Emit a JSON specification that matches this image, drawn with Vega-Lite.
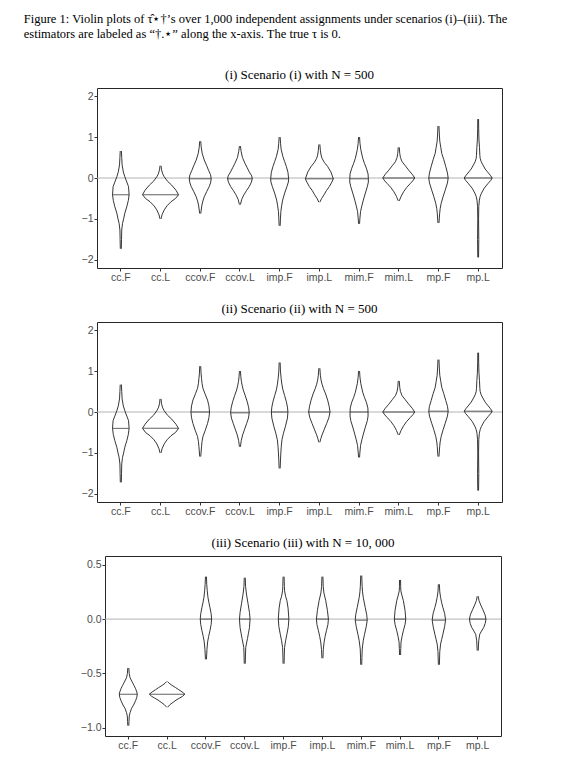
{
"$schema": "https://vega.github.io/schema/vega-lite/v6.json",
"padding": {"left": 23, "top": 13, "right": 5, "bottom": 2},
"background": "white",
"title": {"text": ["Figure 1: Violin plots of τ̂⋆†’s over 1,000 independent assignments under scenarios (i)–(iii).  The", "estimators are labeled as “†.⋆” along the x-axis. The true τ is 0."], "anchor": "start", "fontSize": 12.5, "lineHeight": 15, "dx": -49, "offset": 28, "font": "Liberation Serif", "fontWeight": "normal"},
"spacing": 19,
"datasets": {
"sp": [{"k": 0}],
"p1": [
{"e":"cc.F","v":0.66,"d":0.06},{"e":"cc.F","v":0.5,"d":0.09},{"e":"cc.F","v":0.32,"d":0.13},{"e":"cc.F","v":0.15,"d":0.25},{"e":"cc.F","v":0.03,"d":0.4},{"e":"cc.F","v":-0.1,"d":0.6},{"e":"cc.F","v":-0.21,"d":0.77},{"e":"cc.F","v":-0.41,"d":0.83},{"e":"cc.F","v":-0.55,"d":0.75},{"e":"cc.F","v":-0.7,"d":0.6},{"e":"cc.F","v":-0.86,"d":0.4},{"e":"cc.F","v":-1.0,"d":0.28},{"e":"cc.F","v":-1.11,"d":0.17},{"e":"cc.F","v":-1.27,"d":0.09},{"e":"cc.F","v":-1.5,"d":0.07},{"e":"cc.F","v":-1.73,"d":0.05},
{"e":"cc.L","v":0.3,"d":0.05},{"e":"cc.L","v":0.2,"d":0.1},{"e":"cc.L","v":0.1,"d":0.22},{"e":"cc.L","v":0.03,"d":0.37},{"e":"cc.L","v":-0.08,"d":0.7},{"e":"cc.L","v":-0.17,"d":1.1},{"e":"cc.L","v":-0.3,"d":1.55},{"e":"cc.L","v":-0.41,"d":1.8},{"e":"cc.L","v":-0.5,"d":1.5},{"e":"cc.L","v":-0.58,"d":1.05},{"e":"cc.L","v":-0.68,"d":0.65},{"e":"cc.L","v":-0.78,"d":0.37},{"e":"cc.L","v":-0.9,"d":0.15},{"e":"cc.L","v":-1.0,"d":0.05},
{"e":"ccov.F","v":0.9,"d":0.05},{"e":"ccov.F","v":0.75,"d":0.1},{"e":"ccov.F","v":0.6,"d":0.2},{"e":"ccov.F","v":0.44,"d":0.4},{"e":"ccov.F","v":0.3,"d":0.65},{"e":"ccov.F","v":0.19,"d":0.83},{"e":"ccov.F","v":0.08,"d":1.03},{"e":"ccov.F","v":-0.02,"d":1.1},{"e":"ccov.F","v":-0.12,"d":1.03},{"e":"ccov.F","v":-0.21,"d":0.9},{"e":"ccov.F","v":-0.33,"d":0.65},{"e":"ccov.F","v":-0.46,"d":0.4},{"e":"ccov.F","v":-0.56,"d":0.27},{"e":"ccov.F","v":-0.66,"d":0.17},{"e":"ccov.F","v":-0.87,"d":0.05},
{"e":"ccov.L","v":0.78,"d":0.05},{"e":"ccov.L","v":0.65,"d":0.12},{"e":"ccov.L","v":0.5,"d":0.25},{"e":"ccov.L","v":0.36,"d":0.5},{"e":"ccov.L","v":0.25,"d":0.73},{"e":"ccov.L","v":0.15,"d":0.93},{"e":"ccov.L","v":0.05,"d":1.18},{"e":"ccov.L","v":-0.02,"d":1.23},{"e":"ccov.L","v":-0.1,"d":1.15},{"e":"ccov.L","v":-0.21,"d":0.93},{"e":"ccov.L","v":-0.31,"d":0.65},{"e":"ccov.L","v":-0.41,"d":0.4},{"e":"ccov.L","v":-0.52,"d":0.18},{"e":"ccov.L","v":-0.65,"d":0.05},
{"e":"imp.F","v":1.0,"d":0.05},{"e":"imp.F","v":0.85,"d":0.09},{"e":"imp.F","v":0.7,"d":0.15},{"e":"imp.F","v":0.52,"d":0.33},{"e":"imp.F","v":0.4,"d":0.5},{"e":"imp.F","v":0.28,"d":0.67},{"e":"imp.F","v":0.14,"d":0.83},{"e":"imp.F","v":-0.02,"d":0.9},{"e":"imp.F","v":-0.1,"d":0.87},{"e":"imp.F","v":-0.21,"d":0.73},{"e":"imp.F","v":-0.37,"d":0.5},{"e":"imp.F","v":-0.54,"d":0.3},{"e":"imp.F","v":-0.68,"d":0.2},{"e":"imp.F","v":-0.82,"d":0.12},{"e":"imp.F","v":-1.0,"d":0.08},{"e":"imp.F","v":-1.17,"d":0.05},
{"e":"imp.L","v":0.82,"d":0.05},{"e":"imp.L","v":0.68,"d":0.1},{"e":"imp.L","v":0.56,"d":0.17},{"e":"imp.L","v":0.48,"d":0.27},{"e":"imp.L","v":0.38,"d":0.5},{"e":"imp.L","v":0.28,"d":0.83},{"e":"imp.L","v":0.15,"d":1.15},{"e":"imp.L","v":-0.02,"d":1.4},{"e":"imp.L","v":-0.1,"d":1.25},{"e":"imp.L","v":-0.21,"d":1.0},{"e":"imp.L","v":-0.31,"d":0.7},{"e":"imp.L","v":-0.41,"d":0.47},{"e":"imp.L","v":-0.5,"d":0.23},{"e":"imp.L","v":-0.59,"d":0.05},
{"e":"mim.F","v":1.0,"d":0.05},{"e":"mim.F","v":0.85,"d":0.09},{"e":"mim.F","v":0.7,"d":0.17},{"e":"mim.F","v":0.48,"d":0.37},{"e":"mim.F","v":0.35,"d":0.55},{"e":"mim.F","v":0.24,"d":0.73},{"e":"mim.F","v":0.1,"d":0.9},{"e":"mim.F","v":-0.02,"d":0.93},{"e":"mim.F","v":-0.1,"d":0.93},{"e":"mim.F","v":-0.21,"d":0.83},{"e":"mim.F","v":-0.37,"d":0.63},{"e":"mim.F","v":-0.54,"d":0.43},{"e":"mim.F","v":-0.68,"d":0.28},{"e":"mim.F","v":-0.82,"d":0.15},{"e":"mim.F","v":-1.0,"d":0.08},{"e":"mim.F","v":-1.12,"d":0.05},
{"e":"mim.L","v":0.75,"d":0.05},{"e":"mim.L","v":0.6,"d":0.1},{"e":"mim.L","v":0.5,"d":0.17},{"e":"mim.L","v":0.4,"d":0.33},{"e":"mim.L","v":0.3,"d":0.65},{"e":"mim.L","v":0.19,"d":1.0},{"e":"mim.L","v":0.09,"d":1.35},{"e":"mim.L","v":0.0,"d":1.6},{"e":"mim.L","v":-0.07,"d":1.4},{"e":"mim.L","v":-0.13,"d":1.17},{"e":"mim.L","v":-0.23,"d":0.8},{"e":"mim.L","v":-0.33,"d":0.5},{"e":"mim.L","v":-0.45,"d":0.23},{"e":"mim.L","v":-0.56,"d":0.05},
{"e":"mp.F","v":1.27,"d":0.05},{"e":"mp.F","v":1.1,"d":0.08},{"e":"mp.F","v":0.9,"d":0.13},{"e":"mp.F","v":0.75,"d":0.23},{"e":"mp.F","v":0.6,"d":0.33},{"e":"mp.F","v":0.45,"d":0.53},{"e":"mp.F","v":0.28,"d":0.73},{"e":"mp.F","v":0.12,"d":0.9},{"e":"mp.F","v":0.0,"d":0.97},{"e":"mp.F","v":-0.12,"d":0.9},{"e":"mp.F","v":-0.3,"d":0.67},{"e":"mp.F","v":-0.45,"d":0.47},{"e":"mp.F","v":-0.62,"d":0.27},{"e":"mp.F","v":-0.75,"d":0.17},{"e":"mp.F","v":-0.86,"d":0.12},{"e":"mp.F","v":-1.1,"d":0.05},
{"e":"mp.L","v":1.44,"d":0.04},{"e":"mp.L","v":1.2,"d":0.05},{"e":"mp.L","v":0.93,"d":0.08},{"e":"mp.L","v":0.75,"d":0.13},{"e":"mp.L","v":0.55,"d":0.17},{"e":"mp.L","v":0.48,"d":0.2},{"e":"mp.L","v":0.4,"d":0.3},{"e":"mp.L","v":0.32,"d":0.47},{"e":"mp.L","v":0.22,"d":0.7},{"e":"mp.L","v":0.15,"d":0.93},{"e":"mp.L","v":0.07,"d":1.2},{"e":"mp.L","v":0.0,"d":1.4},{"e":"mp.L","v":-0.06,"d":1.25},{"e":"mp.L","v":-0.13,"d":1.0},{"e":"mp.L","v":-0.25,"d":0.6},{"e":"mp.L","v":-0.37,"d":0.33},{"e":"mp.L","v":-0.45,"d":0.2},{"e":"mp.L","v":-0.54,"d":0.12},{"e":"mp.L","v":-0.7,"d":0.06},{"e":"mp.L","v":-1.0,"d":0.04},{"e":"mp.L","v":-1.5,"d":0.06},{"e":"mp.L","v":-1.94,"d":0.04}
],
"m1": [
{"e":"cc.F","v":-0.41,"d":0.83},{"e":"cc.L","v":-0.41,"d":1.8},{"e":"ccov.F","v":-0.02,"d":1.1},{"e":"ccov.L","v":-0.02,"d":1.23},{"e":"imp.F","v":-0.02,"d":0.9},{"e":"imp.L","v":-0.02,"d":1.4},{"e":"mim.F","v":-0.02,"d":0.93},{"e":"mim.L","v":0.0,"d":1.6},{"e":"mp.F","v":0.0,"d":0.97},{"e":"mp.L","v":0.0,"d":1.4}
],
"p2": [
{"e":"cc.F","v":0.67,"d":0.06},{"e":"cc.F","v":0.5,"d":0.09},{"e":"cc.F","v":0.32,"d":0.13},{"e":"cc.F","v":0.15,"d":0.25},{"e":"cc.F","v":0.03,"d":0.4},{"e":"cc.F","v":-0.1,"d":0.6},{"e":"cc.F","v":-0.21,"d":0.77},{"e":"cc.F","v":-0.4,"d":0.83},{"e":"cc.F","v":-0.55,"d":0.75},{"e":"cc.F","v":-0.7,"d":0.6},{"e":"cc.F","v":-0.86,"d":0.4},{"e":"cc.F","v":-1.0,"d":0.28},{"e":"cc.F","v":-1.11,"d":0.17},{"e":"cc.F","v":-1.27,"d":0.09},{"e":"cc.F","v":-1.5,"d":0.07},{"e":"cc.F","v":-1.72,"d":0.05},
{"e":"cc.L","v":0.32,"d":0.05},{"e":"cc.L","v":0.2,"d":0.1},{"e":"cc.L","v":0.1,"d":0.22},{"e":"cc.L","v":0.03,"d":0.37},{"e":"cc.L","v":-0.08,"d":0.7},{"e":"cc.L","v":-0.17,"d":1.1},{"e":"cc.L","v":-0.3,"d":1.55},{"e":"cc.L","v":-0.4,"d":1.8},{"e":"cc.L","v":-0.5,"d":1.5},{"e":"cc.L","v":-0.58,"d":1.05},{"e":"cc.L","v":-0.68,"d":0.65},{"e":"cc.L","v":-0.78,"d":0.37},{"e":"cc.L","v":-0.9,"d":0.15},{"e":"cc.L","v":-1.0,"d":0.05},
{"e":"ccov.F","v":1.12,"d":0.05},{"e":"ccov.F","v":0.95,"d":0.08},{"e":"ccov.F","v":0.82,"d":0.13},{"e":"ccov.F","v":0.7,"d":0.18},{"e":"ccov.F","v":0.58,"d":0.27},{"e":"ccov.F","v":0.45,"d":0.47},{"e":"ccov.F","v":0.29,"d":0.73},{"e":"ccov.F","v":0.15,"d":0.87},{"e":"ccov.F","v":0.0,"d":0.93},{"e":"ccov.F","v":-0.14,"d":0.87},{"e":"ccov.F","v":-0.28,"d":0.73},{"e":"ccov.F","v":-0.45,"d":0.5},{"e":"ccov.F","v":-0.6,"d":0.27},{"e":"ccov.F","v":-0.72,"d":0.18},{"e":"ccov.F","v":-0.85,"d":0.13},{"e":"ccov.F","v":-1.09,"d":0.05},
{"e":"ccov.L","v":1.0,"d":0.05},{"e":"ccov.L","v":0.86,"d":0.09},{"e":"ccov.L","v":0.74,"d":0.15},{"e":"ccov.L","v":0.64,"d":0.23},{"e":"ccov.L","v":0.54,"d":0.33},{"e":"ccov.L","v":0.4,"d":0.53},{"e":"ccov.L","v":0.25,"d":0.73},{"e":"ccov.L","v":0.1,"d":0.88},{"e":"ccov.L","v":-0.02,"d":0.93},{"e":"ccov.L","v":-0.15,"d":0.85},{"e":"ccov.L","v":-0.28,"d":0.67},{"e":"ccov.L","v":-0.42,"d":0.47},{"e":"ccov.L","v":-0.56,"d":0.27},{"e":"ccov.L","v":-0.7,"d":0.13},{"e":"ccov.L","v":-0.85,"d":0.05},
{"e":"imp.F","v":1.21,"d":0.05},{"e":"imp.F","v":1.0,"d":0.08},{"e":"imp.F","v":0.82,"d":0.15},{"e":"imp.F","v":0.68,"d":0.22},{"e":"imp.F","v":0.54,"d":0.33},{"e":"imp.F","v":0.4,"d":0.5},{"e":"imp.F","v":0.25,"d":0.67},{"e":"imp.F","v":0.12,"d":0.78},{"e":"imp.F","v":0.0,"d":0.83},{"e":"imp.F","v":-0.15,"d":0.78},{"e":"imp.F","v":-0.36,"d":0.57},{"e":"imp.F","v":-0.52,"d":0.38},{"e":"imp.F","v":-0.68,"d":0.23},{"e":"imp.F","v":-0.85,"d":0.16},{"e":"imp.F","v":-1.0,"d":0.12},{"e":"imp.F","v":-1.2,"d":0.08},{"e":"imp.F","v":-1.38,"d":0.05},
{"e":"imp.L","v":1.07,"d":0.05},{"e":"imp.L","v":0.9,"d":0.1},{"e":"imp.L","v":0.78,"d":0.17},{"e":"imp.L","v":0.68,"d":0.27},{"e":"imp.L","v":0.58,"d":0.4},{"e":"imp.L","v":0.44,"d":0.63},{"e":"imp.L","v":0.29,"d":0.83},{"e":"imp.L","v":0.14,"d":0.98},{"e":"imp.L","v":0.0,"d":1.07},{"e":"imp.L","v":-0.14,"d":0.95},{"e":"imp.L","v":-0.28,"d":0.73},{"e":"imp.L","v":-0.42,"d":0.5},{"e":"imp.L","v":-0.56,"d":0.27},{"e":"imp.L","v":-0.65,"d":0.15},{"e":"imp.L","v":-0.74,"d":0.05},
{"e":"mim.F","v":1.0,"d":0.05},{"e":"mim.F","v":0.85,"d":0.09},{"e":"mim.F","v":0.7,"d":0.17},{"e":"mim.F","v":0.48,"d":0.37},{"e":"mim.F","v":0.35,"d":0.55},{"e":"mim.F","v":0.24,"d":0.73},{"e":"mim.F","v":0.1,"d":0.88},{"e":"mim.F","v":0.0,"d":0.9},{"e":"mim.F","v":-0.1,"d":0.9},{"e":"mim.F","v":-0.21,"d":0.83},{"e":"mim.F","v":-0.37,"d":0.63},{"e":"mim.F","v":-0.54,"d":0.43},{"e":"mim.F","v":-0.68,"d":0.28},{"e":"mim.F","v":-0.82,"d":0.15},{"e":"mim.F","v":-1.0,"d":0.08},{"e":"mim.F","v":-1.11,"d":0.05},
{"e":"mim.L","v":0.76,"d":0.05},{"e":"mim.L","v":0.6,"d":0.1},{"e":"mim.L","v":0.5,"d":0.17},{"e":"mim.L","v":0.4,"d":0.33},{"e":"mim.L","v":0.3,"d":0.65},{"e":"mim.L","v":0.19,"d":1.0},{"e":"mim.L","v":0.09,"d":1.35},{"e":"mim.L","v":0.0,"d":1.6},{"e":"mim.L","v":-0.07,"d":1.4},{"e":"mim.L","v":-0.13,"d":1.17},{"e":"mim.L","v":-0.23,"d":0.8},{"e":"mim.L","v":-0.33,"d":0.5},{"e":"mim.L","v":-0.45,"d":0.23},{"e":"mim.L","v":-0.56,"d":0.05},
{"e":"mp.F","v":1.28,"d":0.05},{"e":"mp.F","v":1.1,"d":0.08},{"e":"mp.F","v":0.9,"d":0.13},{"e":"mp.F","v":0.75,"d":0.23},{"e":"mp.F","v":0.6,"d":0.33},{"e":"mp.F","v":0.45,"d":0.53},{"e":"mp.F","v":0.28,"d":0.73},{"e":"mp.F","v":0.14,"d":0.9},{"e":"mp.F","v":0.02,"d":0.97},{"e":"mp.F","v":-0.1,"d":0.9},{"e":"mp.F","v":-0.28,"d":0.67},{"e":"mp.F","v":-0.43,"d":0.47},{"e":"mp.F","v":-0.6,"d":0.27},{"e":"mp.F","v":-0.73,"d":0.17},{"e":"mp.F","v":-0.85,"d":0.12},{"e":"mp.F","v":-1.09,"d":0.05},
{"e":"mp.L","v":1.45,"d":0.04},{"e":"mp.L","v":1.2,"d":0.05},{"e":"mp.L","v":0.95,"d":0.08},{"e":"mp.L","v":0.77,"d":0.13},{"e":"mp.L","v":0.57,"d":0.17},{"e":"mp.L","v":0.5,"d":0.2},{"e":"mp.L","v":0.42,"d":0.3},{"e":"mp.L","v":0.34,"d":0.47},{"e":"mp.L","v":0.24,"d":0.7},{"e":"mp.L","v":0.17,"d":0.93},{"e":"mp.L","v":0.09,"d":1.2},{"e":"mp.L","v":0.02,"d":1.4},{"e":"mp.L","v":-0.04,"d":1.25},{"e":"mp.L","v":-0.11,"d":1.0},{"e":"mp.L","v":-0.23,"d":0.6},{"e":"mp.L","v":-0.35,"d":0.33},{"e":"mp.L","v":-0.43,"d":0.2},{"e":"mp.L","v":-0.52,"d":0.12},{"e":"mp.L","v":-0.68,"d":0.06},{"e":"mp.L","v":-1.0,"d":0.04},{"e":"mp.L","v":-1.5,"d":0.06},{"e":"mp.L","v":-1.92,"d":0.04}
],
"m2": [
{"e":"cc.F","v":-0.4,"d":0.83},{"e":"cc.L","v":-0.4,"d":1.8},{"e":"ccov.F","v":0.0,"d":0.93},{"e":"ccov.L","v":-0.02,"d":0.93},{"e":"imp.F","v":0.0,"d":0.83},{"e":"imp.L","v":0.0,"d":1.07},{"e":"mim.F","v":0.0,"d":0.9},{"e":"mim.L","v":0.0,"d":1.6},{"e":"mp.F","v":0.02,"d":0.97},{"e":"mp.L","v":0.02,"d":1.4}
],
"p3": [
{"e":"cc.F","v":-0.45,"d":0.05},{"e":"cc.F","v":-0.5,"d":0.09},{"e":"cc.F","v":-0.54,"d":0.18},{"e":"cc.F","v":-0.58,"d":0.4},{"e":"cc.F","v":-0.61,"d":0.57},{"e":"cc.F","v":-0.64,"d":0.73},{"e":"cc.F","v":-0.67,"d":0.85},{"e":"cc.F","v":-0.69,"d":0.9},{"e":"cc.F","v":-0.72,"d":0.85},{"e":"cc.F","v":-0.75,"d":0.73},{"e":"cc.F","v":-0.79,"d":0.53},{"e":"cc.F","v":-0.82,"d":0.33},{"e":"cc.F","v":-0.86,"d":0.18},{"e":"cc.F","v":-0.89,"d":0.1},{"e":"cc.F","v":-0.94,"d":0.07},{"e":"cc.F","v":-0.98,"d":0.05},
{"e":"cc.L","v":-0.575,"d":0.05},{"e":"cc.L","v":-0.59,"d":0.2},{"e":"cc.L","v":-0.61,"d":0.5},{"e":"cc.L","v":-0.63,"d":0.85},{"e":"cc.L","v":-0.65,"d":1.17},{"e":"cc.L","v":-0.67,"d":1.5},{"e":"cc.L","v":-0.69,"d":1.77},{"e":"cc.L","v":-0.71,"d":1.55},{"e":"cc.L","v":-0.725,"d":1.27},{"e":"cc.L","v":-0.745,"d":0.9},{"e":"cc.L","v":-0.765,"d":0.6},{"e":"cc.L","v":-0.785,"d":0.3},{"e":"cc.L","v":-0.81,"d":0.05},
{"e":"ccov.F","v":0.39,"d":0.05},{"e":"ccov.F","v":0.32,"d":0.08},{"e":"ccov.F","v":0.26,"d":0.13},{"e":"ccov.F","v":0.2,"d":0.2},{"e":"ccov.F","v":0.15,"d":0.3},{"e":"ccov.F","v":0.107,"d":0.4},{"e":"ccov.F","v":0.05,"d":0.52},{"e":"ccov.F","v":0.0,"d":0.57},{"e":"ccov.F","v":-0.05,"d":0.52},{"e":"ccov.F","v":-0.107,"d":0.4},{"e":"ccov.F","v":-0.16,"d":0.27},{"e":"ccov.F","v":-0.21,"d":0.17},{"e":"ccov.F","v":-0.28,"d":0.1},{"e":"ccov.F","v":-0.37,"d":0.05},
{"e":"ccov.L","v":0.38,"d":0.05},{"e":"ccov.L","v":0.3,"d":0.08},{"e":"ccov.L","v":0.23,"d":0.17},{"e":"ccov.L","v":0.14,"d":0.33},{"e":"ccov.L","v":0.06,"d":0.47},{"e":"ccov.L","v":0.0,"d":0.53},{"e":"ccov.L","v":-0.077,"d":0.47},{"e":"ccov.L","v":-0.13,"d":0.37},{"e":"ccov.L","v":-0.18,"d":0.27},{"e":"ccov.L","v":-0.22,"d":0.18},{"e":"ccov.L","v":-0.26,"d":0.1},{"e":"ccov.L","v":-0.33,"d":0.07},{"e":"ccov.L","v":-0.41,"d":0.05},
{"e":"imp.F","v":0.39,"d":0.05},{"e":"imp.F","v":0.3,"d":0.08},{"e":"imp.F","v":0.26,"d":0.1},{"e":"imp.F","v":0.21,"d":0.2},{"e":"imp.F","v":0.17,"d":0.33},{"e":"imp.F","v":0.1,"d":0.45},{"e":"imp.F","v":0.0,"d":0.53},{"e":"imp.F","v":-0.07,"d":0.47},{"e":"imp.F","v":-0.14,"d":0.33},{"e":"imp.F","v":-0.2,"d":0.2},{"e":"imp.F","v":-0.26,"d":0.1},{"e":"imp.F","v":-0.33,"d":0.07},{"e":"imp.F","v":-0.41,"d":0.05},
{"e":"imp.L","v":0.39,"d":0.05},{"e":"imp.L","v":0.3,"d":0.08},{"e":"imp.L","v":0.24,"d":0.15},{"e":"imp.L","v":0.17,"d":0.33},{"e":"imp.L","v":0.08,"d":0.5},{"e":"imp.L","v":0.0,"d":0.6},{"e":"imp.L","v":-0.05,"d":0.55},{"e":"imp.L","v":-0.107,"d":0.4},{"e":"imp.L","v":-0.16,"d":0.27},{"e":"imp.L","v":-0.21,"d":0.17},{"e":"imp.L","v":-0.28,"d":0.09},{"e":"imp.L","v":-0.36,"d":0.05},
{"e":"mim.F","v":0.4,"d":0.05},{"e":"mim.F","v":0.3,"d":0.09},{"e":"mim.F","v":0.25,"d":0.13},{"e":"mim.F","v":0.2,"d":0.2},{"e":"mim.F","v":0.107,"d":0.4},{"e":"mim.F","v":0.04,"d":0.55},{"e":"mim.F","v":-0.01,"d":0.6},{"e":"mim.F","v":-0.07,"d":0.5},{"e":"mim.F","v":-0.14,"d":0.33},{"e":"mim.F","v":-0.2,"d":0.2},{"e":"mim.F","v":-0.275,"d":0.1},{"e":"mim.F","v":-0.35,"d":0.07},{"e":"mim.F","v":-0.42,"d":0.05},
{"e":"mim.L","v":0.36,"d":0.05},{"e":"mim.L","v":0.3,"d":0.06},{"e":"mim.L","v":0.26,"d":0.08},{"e":"mim.L","v":0.22,"d":0.18},{"e":"mim.L","v":0.17,"d":0.33},{"e":"mim.L","v":0.08,"d":0.5},{"e":"mim.L","v":0.0,"d":0.57},{"e":"mim.L","v":-0.05,"d":0.5},{"e":"mim.L","v":-0.107,"d":0.33},{"e":"mim.L","v":-0.16,"d":0.2},{"e":"mim.L","v":-0.21,"d":0.1},{"e":"mim.L","v":-0.27,"d":0.07},{"e":"mim.L","v":-0.33,"d":0.05},
{"e":"mp.F","v":0.32,"d":0.05},{"e":"mp.F","v":0.25,"d":0.09},{"e":"mp.F","v":0.2,"d":0.17},{"e":"mp.F","v":0.15,"d":0.28},{"e":"mp.F","v":0.107,"d":0.4},{"e":"mp.F","v":0.05,"d":0.58},{"e":"mp.F","v":-0.01,"d":0.67},{"e":"mp.F","v":-0.07,"d":0.57},{"e":"mp.F","v":-0.14,"d":0.4},{"e":"mp.F","v":-0.19,"d":0.27},{"e":"mp.F","v":-0.23,"d":0.17},{"e":"mp.F","v":-0.3,"d":0.09},{"e":"mp.F","v":-0.42,"d":0.05},
{"e":"mp.L","v":0.21,"d":0.05},{"e":"mp.L","v":0.17,"d":0.13},{"e":"mp.L","v":0.13,"d":0.3},{"e":"mp.L","v":0.09,"d":0.5},{"e":"mp.L","v":0.04,"d":0.73},{"e":"mp.L","v":0.0,"d":0.83},{"e":"mp.L","v":-0.04,"d":0.75},{"e":"mp.L","v":-0.077,"d":0.6},{"e":"mp.L","v":-0.11,"d":0.38},{"e":"mp.L","v":-0.14,"d":0.2},{"e":"mp.L","v":-0.2,"d":0.1},{"e":"mp.L","v":-0.29,"d":0.05}
],
"m3": [
{"e":"cc.F","v":-0.69,"d":0.9},{"e":"cc.L","v":-0.69,"d":1.77},{"e":"ccov.F","v":0.0,"d":0.57},{"e":"ccov.L","v":0.0,"d":0.53},{"e":"imp.F","v":0.0,"d":0.53},{"e":"imp.L","v":0.0,"d":0.6},{"e":"mim.F","v":-0.01,"d":0.6},{"e":"mim.L","v":0.0,"d":0.57},{"e":"mp.F","v":-0.01,"d":0.67},{"e":"mp.L","v":0.0,"d":0.83}
]
},
"vconcat": [
{"spacing": 0, "hconcat": [
{"data": {"name": "sp"}, "width": 4, "height": 1, "view": {"stroke": null}, "mark": {"type": "point", "opacity": 0}, "encoding": {}},
{
"width": 405, "height": 180,
"title": {"text": "(i) Scenario (i) with N = 500"},
"layer": [
{"data": {"values": [{}]}, "mark": {"type": "rule", "color": "#b3b3b3", "strokeWidth": 1}, "encoding": {"y": {"datum": 0, "type": "quantitative", "scale": {"domain": [-2.2, 2.2], "nice": false, "zero": false}}}},
{"data": {"name": "p1"}, "mark": {"type": "line", "color": "#1f1f1f", "strokeWidth": 0.9},
 "encoding": {"x": {"field": "e", "type": "nominal", "sort": ["cc.F","cc.L","ccov.F","ccov.L","imp.F","imp.L","mim.F","mim.L","mp.F","mp.L"], "scale": {"type": "band", "paddingInner": 0, "paddingOuter": 0.1}, "axis": {"title": null, "labelAngle": 0}},
  "xOffset": {"field": "d", "type": "quantitative", "scale": {"domain": [-1.985, 1.985], "range": [0, 39.7]}},
  "y": {"field": "v", "type": "quantitative", "scale": {"domain": [-2.2, 2.2], "nice": false, "zero": false}, "axis": {"title": null, "values": [-2, -1, 0, 1, 2]}},
  "detail": {"field": "e"}, "order": {"field": "v", "type": "quantitative"}}},
{"data": {"name": "p1"}, "mark": {"type": "line", "color": "#1f1f1f", "strokeWidth": 0.9},
 "encoding": {"x": {"field": "e", "type": "nominal", "sort": ["cc.F","cc.L","ccov.F","ccov.L","imp.F","imp.L","mim.F","mim.L","mp.F","mp.L"]},
  "xOffset": {"field": "d", "type": "quantitative", "scale": {"domain": [-1.985, 1.985], "range": [39.7, 0]}},
  "y": {"field": "v", "type": "quantitative"},
  "detail": {"field": "e"}, "order": {"field": "v", "type": "quantitative"}}},
{"data": {"name": "m1"}, "mark": {"type": "tick", "color": "#1f1f1f", "thickness": 1},
 "encoding": {"x": {"field": "e", "type": "nominal", "sort": ["cc.F","cc.L","ccov.F","ccov.L","imp.F","imp.L","mim.F","mim.L","mp.F","mp.L"]},
  "y": {"field": "v", "type": "quantitative"},
  "size": {"field": "d", "type": "quantitative", "scale": {"domain": [0, 1.985], "range": [0, 39.7]}, "legend": null}}}
],
"resolve": {"scale": {"xOffset": "independent"}}
}]},
{"spacing": 0, "hconcat": [
{"data": {"name": "sp"}, "width": 4, "height": 1, "view": {"stroke": null}, "mark": {"type": "point", "opacity": 0}, "encoding": {}},
{
"width": 405, "height": 180,
"title": {"text": "(ii) Scenario (ii) with N = 500"},
"layer": [
{"data": {"values": [{}]}, "mark": {"type": "rule", "color": "#b3b3b3", "strokeWidth": 1}, "encoding": {"y": {"datum": 0, "type": "quantitative", "scale": {"domain": [-2.2, 2.2], "nice": false, "zero": false}}}},
{"data": {"name": "p2"}, "mark": {"type": "line", "color": "#1f1f1f", "strokeWidth": 0.9},
 "encoding": {"x": {"field": "e", "type": "nominal", "sort": ["cc.F","cc.L","ccov.F","ccov.L","imp.F","imp.L","mim.F","mim.L","mp.F","mp.L"], "scale": {"type": "band", "paddingInner": 0, "paddingOuter": 0.1}, "axis": {"title": null, "labelAngle": 0}},
  "xOffset": {"field": "d", "type": "quantitative", "scale": {"domain": [-1.985, 1.985], "range": [0, 39.7]}},
  "y": {"field": "v", "type": "quantitative", "scale": {"domain": [-2.2, 2.2], "nice": false, "zero": false}, "axis": {"title": null, "values": [-2, -1, 0, 1, 2]}},
  "detail": {"field": "e"}, "order": {"field": "v", "type": "quantitative"}}},
{"data": {"name": "p2"}, "mark": {"type": "line", "color": "#1f1f1f", "strokeWidth": 0.9},
 "encoding": {"x": {"field": "e", "type": "nominal", "sort": ["cc.F","cc.L","ccov.F","ccov.L","imp.F","imp.L","mim.F","mim.L","mp.F","mp.L"]},
  "xOffset": {"field": "d", "type": "quantitative", "scale": {"domain": [-1.985, 1.985], "range": [39.7, 0]}},
  "y": {"field": "v", "type": "quantitative"},
  "detail": {"field": "e"}, "order": {"field": "v", "type": "quantitative"}}},
{"data": {"name": "m2"}, "mark": {"type": "tick", "color": "#1f1f1f", "thickness": 1},
 "encoding": {"x": {"field": "e", "type": "nominal", "sort": ["cc.F","cc.L","ccov.F","ccov.L","imp.F","imp.L","mim.F","mim.L","mp.F","mp.L"]},
  "y": {"field": "v", "type": "quantitative"},
  "size": {"field": "d", "type": "quantitative", "scale": {"domain": [0, 1.985], "range": [0, 39.7]}, "legend": null}}}
],
"resolve": {"scale": {"xOffset": "independent"}}
}]},
{"spacing": 0, "hconcat": [
{"data": {"name": "sp"}, "width": 1, "height": 1, "view": {"stroke": null}, "mark": {"type": "point", "opacity": 0}, "encoding": {}},
{
"width": 396, "height": 180,
"title": {"text": "(iii) Scenario (iii) with N = 10, 000"},
"layer": [
{"data": {"values": [{}]}, "mark": {"type": "rule", "color": "#b3b3b3", "strokeWidth": 1}, "encoding": {"y": {"datum": 0, "type": "quantitative", "scale": {"domain": [-1.075, 0.58], "nice": false, "zero": false}}}},
{"data": {"name": "p3"}, "mark": {"type": "line", "color": "#1f1f1f", "strokeWidth": 0.9},
 "encoding": {"x": {"field": "e", "type": "nominal", "sort": ["cc.F","cc.L","ccov.F","ccov.L","imp.F","imp.L","mim.F","mim.L","mp.F","mp.L"], "scale": {"type": "band", "paddingInner": 0, "paddingOuter": 0.1}, "axis": {"title": null, "labelAngle": 0}},
  "xOffset": {"field": "d", "type": "quantitative", "scale": {"domain": [-1.941, 1.941], "range": [0, 38.82]}},
  "y": {"field": "v", "type": "quantitative", "scale": {"domain": [-1.075, 0.58], "nice": false, "zero": false}, "axis": {"title": null, "values": [-1, -0.5, 0, 0.5], "format": ".1f"}},
  "detail": {"field": "e"}, "order": {"field": "v", "type": "quantitative"}}},
{"data": {"name": "p3"}, "mark": {"type": "line", "color": "#1f1f1f", "strokeWidth": 0.9},
 "encoding": {"x": {"field": "e", "type": "nominal", "sort": ["cc.F","cc.L","ccov.F","ccov.L","imp.F","imp.L","mim.F","mim.L","mp.F","mp.L"]},
  "xOffset": {"field": "d", "type": "quantitative", "scale": {"domain": [-1.941, 1.941], "range": [38.82, 0]}},
  "y": {"field": "v", "type": "quantitative"},
  "detail": {"field": "e"}, "order": {"field": "v", "type": "quantitative"}}},
{"data": {"name": "m3"}, "mark": {"type": "tick", "color": "#1f1f1f", "thickness": 1},
 "encoding": {"x": {"field": "e", "type": "nominal", "sort": ["cc.F","cc.L","ccov.F","ccov.L","imp.F","imp.L","mim.F","mim.L","mp.F","mp.L"]},
  "y": {"field": "v", "type": "quantitative"},
  "size": {"field": "d", "type": "quantitative", "scale": {"domain": [0, 1.941], "range": [0, 38.82]}, "legend": null}}}
],
"resolve": {"scale": {"xOffset": "independent"}}
}]}
],
"config": {
 "view": {"stroke": "#262626", "strokeWidth": 1},
 "axis": {"labelFont": "Liberation Sans", "labelFontSize": 10.5, "labelColor": "#4d4d4d", "tickColor": "#333333", "tickSize": 3, "labelPadding": 1, "domain": false, "grid": false},
 "title": {"font": "Liberation Serif", "fontSize": 13, "fontWeight": "normal", "color": "#000000", "offset": 6}
}
}
